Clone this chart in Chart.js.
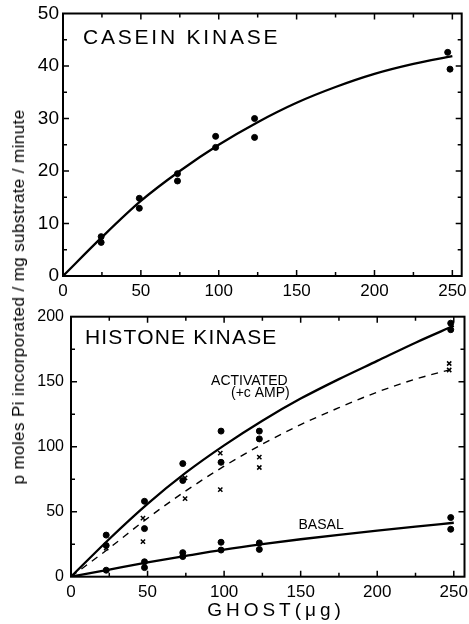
<!DOCTYPE html>
<html lang="en">
<head>
    <meta charset="UTF-8">
    <title>Casein / Histone kinase vs ghost</title>
    <script src="https://cdn.jsdelivr.net/npm/chart.js"></script>
    <style>
        body { margin: 0; background: #fff; }
        #wrap { position: relative; width: 469px; height: 624px; overflow: hidden; }
        #topBox { position: absolute; left: 0; top: 0; width: 469px; height: 300px; }
        #botBox { position: absolute; left: 0; top: 300px; width: 469px; height: 324px; }
        #yTitle {
            position: absolute; left: 19px; top: 297px;
            transform: translate(-50%, -50%) rotate(-90deg);
            white-space: nowrap; font: 17px "Liberation Sans", Arial, sans-serif;
            letter-spacing: 0.4px; color: #000;
        }
        #xTitle {
            position: absolute; left: 276px; top: 610px;
            transform: translate(-50%, -50%);
            white-space: nowrap; font: 19px "Liberation Sans", Arial, sans-serif;
            letter-spacing: 4px; color: #000;
        }
    </style>
</head>
<body>
<div id="wrap">
    <div id="topBox"><canvas id="caseinChart"></canvas></div>
    <div id="botBox"><canvas id="histoneChart"></canvas></div>
    <div id="yTitle">p moles Pi incorporated / mg substrate / minute</div>
    <div id="xTitle">GHOST(μg)</div>
</div>

<script>
    // ---- data ----
    // top panel: casein kinase
    const caseinX = [24.5, 24.5, 49, 49, 73.5, 73.5, 98, 98, 123, 123, 247, 248.5];
    const caseinY = [7.5, 6.4, 14.8, 12.9, 19.5, 18.1, 26.6, 24.5, 30, 26.4, 42.6, 39.4];
    const curveX = [0, 25, 50, 75, 100, 125, 150, 175, 200, 225, 250];
    const caseinCurve = [0, 7.4, 14.3, 20, 25, 29.3, 33, 36, 38.5, 40.4, 41.9];

    // bottom panel: histone kinase
    const activX = [23, 23, 48, 48, 73, 73, 98, 98, 123, 123, 248, 248];
    const activY = [32, 24, 58, 37, 87, 74, 112, 88, 112, 106, 195, 190];
    const crossX = [23, 47, 47, 74.5, 74.5, 97.5, 97.5, 123, 123, 247, 247];
    const crossY = [22, 45, 27, 76, 60, 95, 67, 92, 84, 164, 159];
    const basalX = [23, 48, 48, 73, 73, 98, 98, 123, 123, 248, 248];
    const basalY = [5, 11.5, 7, 18.5, 15.5, 26.5, 20.5, 26, 21, 45.5, 36.5];
    const activCurve = [0, 29, 56, 80, 101, 120, 137, 152, 166, 180, 193];
    const dashCurve = [0, 22, 45, 66, 85, 102, 117, 130, 142, 152, 160];
    const basalCurve = [0, 5.5, 11, 16, 20.8, 25, 28.8, 32.2, 35.4, 38.5, 41.5];

    // frame tick positions
    const xMinorTicks = [25, 50, 75, 100, 125, 150, 175, 200, 225, 250];
    const caseinYTicks = [5, 10, 15, 20, 25, 30, 35, 40, 45];
    const histoneYTicks = [25, 50, 75, 100, 125, 150, 175];

    const FONT = '"Liberation Sans", Arial, sans-serif';

    function pts(xs, ys) {
        return xs.map((x, i) => ({ x: x, y: ys[i] }));
    }

    // frame with inward ticks on all four sides, plus the text labels
    function makeFrame(cfg) {
        return {
            id: 'frame_' + cfg.name,
            afterDraw(chart) {
                const ctx = chart.ctx;
                const a = chart.chartArea;
                const x = chart.scales.x, y = chart.scales.y;
                ctx.save();
                ctx.setLineDash([]);
                ctx.strokeStyle = '#000';
                ctx.lineWidth = 2;
                ctx.strokeRect(a.left, a.top, a.right - a.left, a.bottom - a.top);
                ctx.lineWidth = 1.5;
                xMinorTicks.forEach(v => {
                    const px = x.getPixelForValue(v);
                    const len = v % cfg.xMajor === 0 ? 6 : 4;
                    ctx.beginPath();
                    ctx.moveTo(px, a.bottom); ctx.lineTo(px, a.bottom - len);
                    ctx.moveTo(px, a.top); ctx.lineTo(px, a.top + len);
                    ctx.stroke();
                });
                cfg.yTicks.forEach(v => {
                    const py = y.getPixelForValue(v);
                    const len = v % cfg.yMajor === 0 ? 6 : 4;
                    ctx.beginPath();
                    ctx.moveTo(a.left, py); ctx.lineTo(a.left + len, py);
                    ctx.moveTo(a.right, py); ctx.lineTo(a.right - len, py);
                    ctx.stroke();
                });

                ctx.fillStyle = '#000';
                ctx.textBaseline = 'middle';
                ctx.textAlign = 'left';
                cfg.labels.forEach(l => {
                    ctx.font = l.size + 'px ' + FONT;
                    ctx.letterSpacing = l.spacing + 'px';
                    ctx.fillText(l.text, x.getPixelForValue(l.x), y.getPixelForValue(l.y));
                });
                ctx.restore();
            }
        };
    }

    function axes(xMax, yMax, yStep, yFont, yPad, xAxisHeight, yAxisWidth) {
        return {
            x: {
                type: 'linear', min: 0, max: xMax,
                grid: { display: false, drawTicks: false },
                border: { display: false },
                ticks: { stepSize: 50, includeBounds: false, color: '#000', padding: 5, maxRotation: 0,
                         font: { family: FONT, size: 17 } },
                afterFit: s => { s.height = xAxisHeight; s.paddingLeft = 0; s.paddingRight = 0; }
            },
            y: {
                type: 'linear', min: 0, max: yMax,
                grid: { display: false, drawTicks: false },
                border: { display: false },
                ticks: { stepSize: yStep, color: '#000', padding: yPad,
                         font: { family: FONT, size: yFont } },
                afterFit: s => { s.width = yAxisWidth; s.paddingTop = 0; s.paddingBottom = 0; }
            }
        };
    }

    const dotStyle = { type: 'scatter', pointRadius: 3, pointHoverRadius: 3, backgroundColor: '#000', borderColor: '#000', showLine: false };
    const curveStyle = { type: 'line', pointRadius: 0, borderColor: '#000', borderWidth: 2.3, cubicInterpolationMode: 'monotone', fill: false };

    // ---- top chart ----
    new Chart(document.getElementById('caseinChart'), {
        data: {
            datasets: [
                Object.assign({ label: 'curve', data: pts(curveX, caseinCurve) }, curveStyle),
                Object.assign({ label: 'casein', data: pts(caseinX, caseinY) }, dotStyle)
            ]
        },
        options: {
            responsive: true, maintainAspectRatio: false, animation: false,
            layout: { padding: { top: 13.5, right: 7.3, left: 0, bottom: 0 } },
            plugins: { legend: { display: false }, tooltip: { enabled: false } },
            scales: axes(256, 50, 10, 19, 4, 24, 63)
        },
        plugins: [makeFrame({
            name: 'casein', xMajor: 50, yMajor: 10, yTicks: caseinYTicks,
            labels: [{ text: 'CASEIN KINASE', x: 12.8, y: 45.3, size: 21, spacing: 2.8 }]
        })]
    });

    // ---- bottom chart ----
    new Chart(document.getElementById('histoneChart'), {
        data: {
            datasets: [
                Object.assign({ label: 'activated curve', data: pts(curveX, activCurve) }, curveStyle),
                Object.assign({ label: 'dashed curve', data: pts(curveX, dashCurve) }, curveStyle,
                    { borderWidth: 1.4, borderDash: [7, 6] }),
                Object.assign({ label: 'basal curve', data: pts(curveX, basalCurve) }, curveStyle),
                Object.assign({ label: 'activated', data: pts(activX, activY) }, dotStyle),
                Object.assign({ label: 'basal', data: pts(basalX, basalY) }, dotStyle),
                { type: 'scatter', label: 'x', data: pts(crossX, crossY), pointStyle: 'crossRot',
                  pointRadius: 3, pointHoverRadius: 3, borderColor: '#000', borderWidth: 1.5, showLine: false }
            ]
        },
        options: {
            responsive: true, maintainAspectRatio: false, animation: false,
            layout: { padding: { top: 16.7, right: 2, left: 0, bottom: 0 } },
            plugins: { legend: { display: false }, tooltip: { enabled: false } },
            scales: axes(257, 200, 50, 16, 7, 47.3, 71)
        },
        plugins: [makeFrame({
            name: 'histone', xMajor: 50, yMajor: 50, yTicks: histoneYTicks,
            labels: [
                { text: 'HISTONE KINASE', x: 9.1, y: 183.6, size: 21, spacing: 1.2 },
                { text: 'ACTIVATED', x: 91.5, y: 150.5, size: 14, spacing: 0 },
                { text: '(+c AMP)', x: 104.5, y: 141.3, size: 14, spacing: 0 },
                { text: 'BASAL', x: 148.6, y: 39.8, size: 14, spacing: 0 }
            ]
        })]
    });
</script>
</body>
</html>
